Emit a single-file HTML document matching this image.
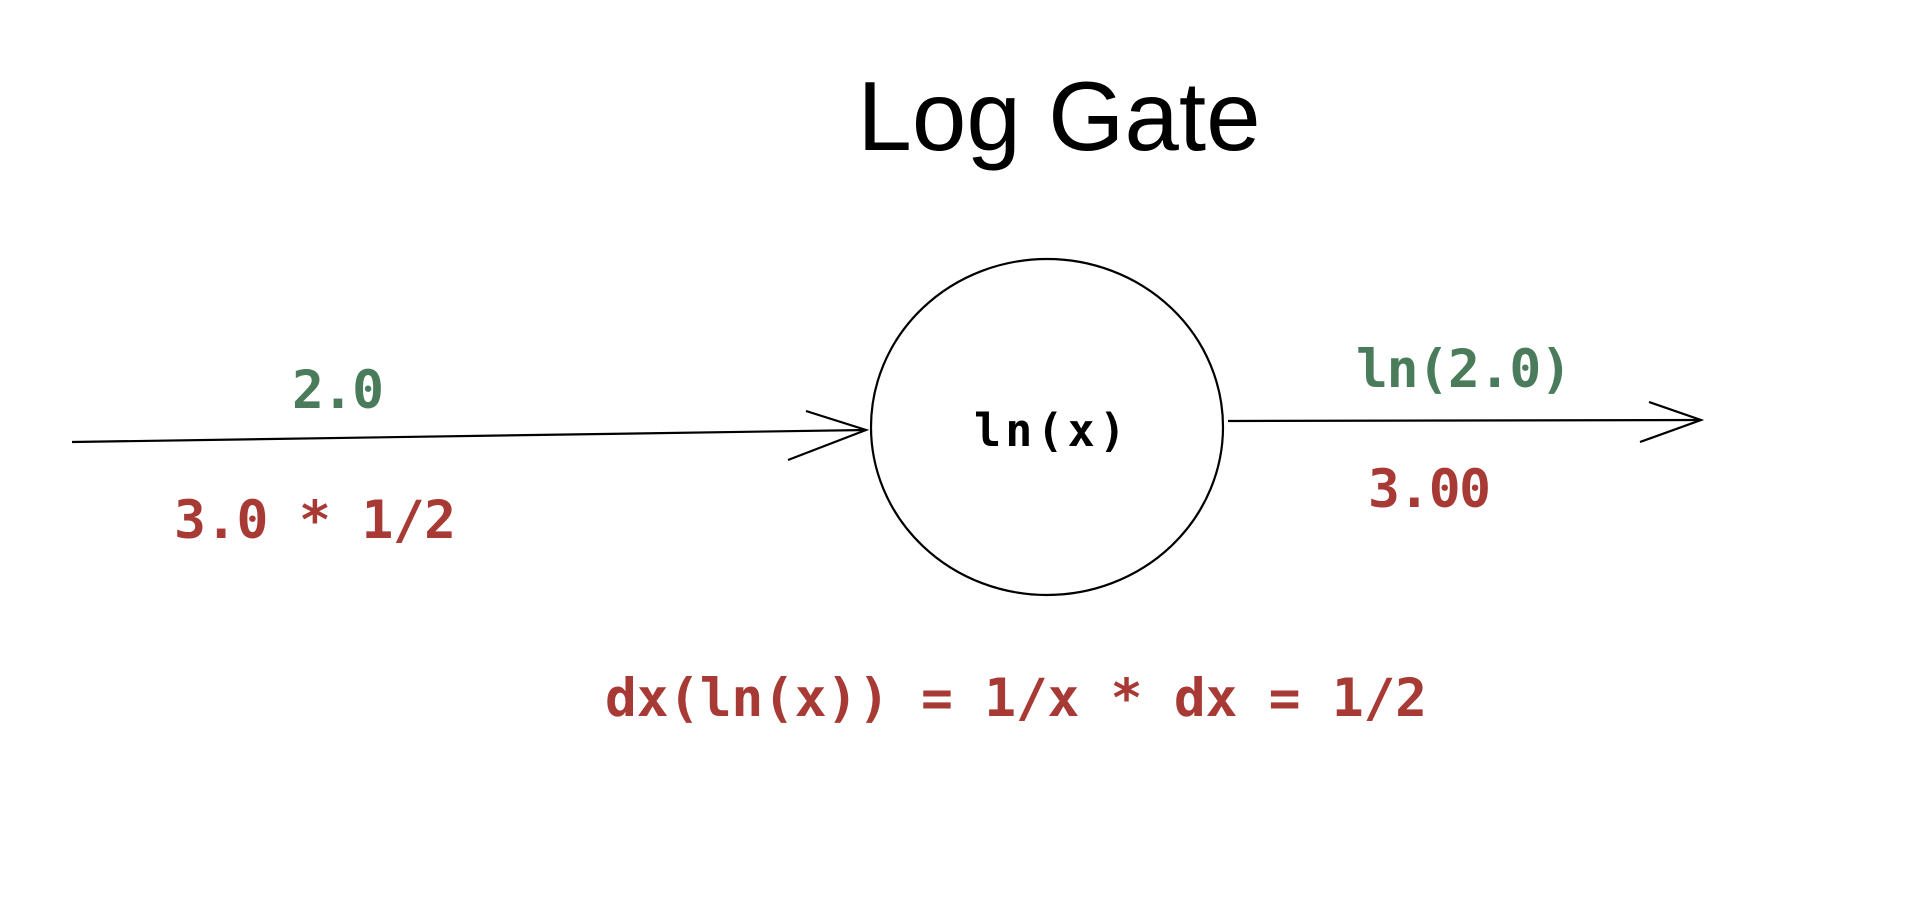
<!DOCTYPE html>
<html><head><meta charset="utf-8"><style>
html,body{margin:0;padding:0;background:#fff;}
svg{display:block}
.m{font-family:"DejaVu Sans Mono","Liberation Mono",monospace;font-weight:bold;}
</style></head><body>
<svg width="1926" height="922" viewBox="0 0 1926 922">
<text x="1059" y="150" text-anchor="middle" font-family="Liberation Sans, sans-serif" font-size="98" fill="#000">Log Gate</text>
<ellipse cx="1047" cy="427" rx="176" ry="168" fill="none" stroke="#000" stroke-width="2.2"/>
<text class="m" x="974" y="446" font-size="45" textLength="152" fill="#000">ln(x)</text>
<g stroke="#000" stroke-width="2.2" fill="none">
<path d="M72 442 L866 430"/><path d="M806 411 L866 430 L788 460"/>
</g>
<g stroke="#000" stroke-width="2.2" fill="none">
<path d="M1228 421 L1701 420"/><path d="M1649 402 L1701 420 L1640 442"/>
</g>
<text class="m" x="292" y="408" font-size="53" textLength="92" fill="#4a7c5c">2.0</text>
<text class="m" x="174" y="538" font-size="53" textLength="282" fill="#a83a35">3.0 * 1/2</text>
<text class="m" x="1356" y="387" font-size="53" textLength="216" fill="#4a7c5c">ln(2.0)</text>
<text class="m" x="1368" y="507" font-size="53" textLength="123" fill="#a83a35">3.00</text>
<text class="m" x="605" y="716" font-size="53" textLength="822" fill="#a83a35">dx(ln(x)) = 1/x * dx = 1/2</text>
</svg>
</body></html>
